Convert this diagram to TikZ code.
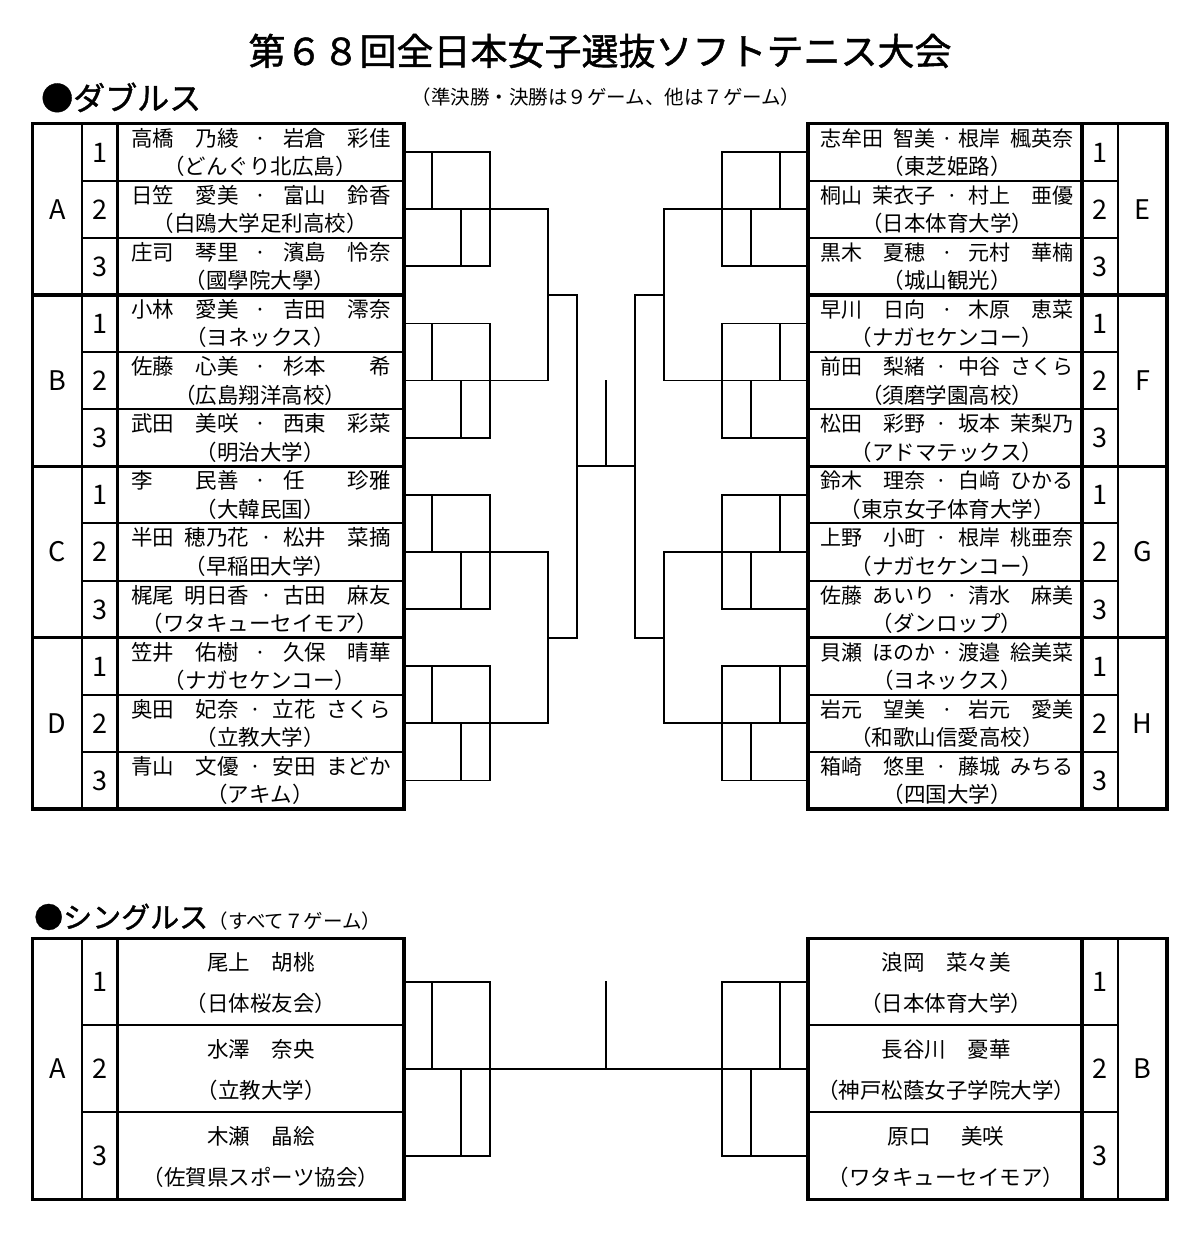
\documentclass[tikz,border=0pt]{standalone}
\usepackage{fontspec}
\setmainfont{Noto Sans CJK JP}
\newfontfamily\hdfont[FakeBold=1.2]{Noto Sans CJK JP}
\usetikzlibrary{calc}
\newcommand\pl[3]{\hbox to #1em{#2\hfill#3}}
\newcommand\nmfont{\fontsize{21.5}{24}\selectfont}
\newcommand\nmfontr{\fontsize{21}{24}\selectfont}
\newcommand\DL[4]{%
  \pgfmathsetmacro\rt{123.5+#1*57.125}%
  \node[nm,anchor=base west] (dl#1a) at (131,\rt+22.5) {#2};
  \node[nm,anchor=base east] (dl#1b) at (391,\rt+22.5) {#3};
  \node[nm,anchor=base] (dl#1d) at ($(dl#1a.base east)!0.5!(dl#1b.base west)$) {·};
  \node[nm,anchor=base] (dl#1o) at (260,\rt+51) {#4};}
\newcommand\DR[4]{%
  \pgfmathsetmacro\rt{123.5+#1*57.125}%
  \node[nmr,anchor=base west] (dr#1a) at (820,\rt+22.5) {#2};
  \node[nmr,anchor=base east] (dr#1b) at (1074,\rt+22.5) {#3};
  \node[nmr,anchor=base] (dr#1d) at ($(dr#1a.base east)!0.5!(dr#1b.base west)$) {·};
  \node[nm,anchor=base] (dr#1o) at (947,\rt+51) {#4};}
\newcommand\SL[3]{%
  \pgfmathsetmacro\rt{938.3+#1*87}%
  \node[nm,anchor=base] (sl#1n) at (261,\rt+31.7) {#2};
  \node[nm,anchor=base] (sl#1o) at (261,\rt+73.2) {#3};}
\newcommand\SR[3]{%
  \pgfmathsetmacro\rt{938.3+#1*87}%
  \node[nm,anchor=base] (sr#1n) at (946,\rt+31.7) {#2};
  \node[nm,anchor=base] (sr#1o) at (946,\rt+73.2) {#3};}
\begin{document}
\begin{tikzpicture}[x=1pt,y=-1pt,
  bl/.style={line width=1.8pt,line cap=rect},
  tl/.style={line width=2pt},
  tk/.style={line width=3.5pt},
  nm/.style={font=\nmfont,inner sep=0pt},
  nmr/.style={font=\nmfontr,inner sep=0pt},
  num/.style={font=\fontsize{27}{30}\selectfont,inner sep=0pt,anchor=base},
  note/.style={font=\fontsize{19.5}{22}\selectfont,inner sep=0pt}]
\useasboundingbox (0,0) rectangle (1200,1234);

% ---------- headings ----------
\node[font=\hdfont\fontsize{37}{40}\selectfont,inner sep=0pt,anchor=base] (title) at (600,65) {第６８回全日本女子選抜ソフトテニス大会};
\node[font=\hdfont\fontsize{32}{36}\selectfont,inner sep=0pt,anchor=base west] (dhead) at (41,110) {●ダブルス};
\node[note,anchor=base] (dnote) at (606,104) {（準決勝・決勝は９ゲーム、他は７ゲーム）};
\node[font=\hdfont\fontsize{29}{32}\selectfont,inner sep=0pt,anchor=base west] (shead) at (34,928) {●シングルス};
\node[note,anchor=base west] (snote) at (shead.base east) {（すべて７ゲーム）};

% ---------- doubles bracket ----------
\foreach \g in {0,...,3}{
  \foreach \r in {0,1,2}{
    \pgfmathsetmacro\cy{123.5+(3*\g+\r+0.5)*57.125}
    \coordinate (La\g\r) at (404,\cy);
    \coordinate (Ra\g\r) at (808,\cy);
  }
}
\foreach \g in {0,...,3}{
  \draw[bl] (La\g0) -- ++(86,0) |- (La\g2);
  \draw[bl] (La\g1) -- ++(144,0) coordinate (Lm\g);
  \draw[bl] ([xshift=28pt]La\g0) -- ([xshift=28pt]La\g1);
  \draw[bl] ([xshift=57pt]La\g1) -- ([xshift=57pt]La\g2);
  \draw[bl] (Ra\g0) -- ++(-86,0) |- (Ra\g2);
  \draw[bl] (Ra\g1) -- ++(-144,0) coordinate (Rm\g);
  \draw[bl] ([xshift=-28pt]Ra\g0) -- ([xshift=-28pt]Ra\g1);
  \draw[bl] ([xshift=-57pt]Ra\g1) -- ([xshift=-57pt]Ra\g2);
}
\draw[bl] (Lm0) -- (Lm1);
\draw[bl] (Lm2) -- (Lm3);
\draw[bl] (Rm0) -- (Rm1);
\draw[bl] (Rm2) -- (Rm3);
\coordinate (LmAB) at ($(Lm0)!0.5!(Lm1)$);
\coordinate (LmCD) at ($(Lm2)!0.5!(Lm3)$);
\coordinate (RmAB) at ($(Rm0)!0.5!(Rm1)$);
\coordinate (RmCD) at ($(Rm2)!0.5!(Rm3)$);
\draw[bl] (LmAB) -- ++(29,0) coordinate (LqAB);
\draw[bl] (LmCD) -- ++(29,0) coordinate (LqCD);
\draw[bl] (RmAB) -- ++(-29,0) coordinate (RqAB);
\draw[bl] (RmCD) -- ++(-29,0) coordinate (RqCD);
\draw[bl] (LqAB) -- (LqCD);
\draw[bl] (RqAB) -- (RqCD);
\coordinate (Lfin) at ($(LqAB)!0.5!(LqCD)$);
\coordinate (Rfin) at ($(RqAB)!0.5!(RqCD)$);
\draw[bl] (Lfin) -- (Rfin);
\coordinate (ctr) at (606,0);
\draw[bl] (ctr |- La11) -- (ctr |- Lfin);

% ---------- singles bracket ----------
\foreach \r in {0,1,2}{
  \pgfmathsetmacro\cy{938.3+(\r+0.5)*87}
  \coordinate (Sa\r) at (404,\cy);
  \coordinate (Sb\r) at (808,\cy);
}
\draw[bl] (Sa0) -- ++(86,0) |- (Sa2);
\draw[bl] (Sa1) -- (Sb1);
\draw[bl] ([xshift=28pt]Sa0) -- ([xshift=28pt]Sa1);
\draw[bl] ([xshift=57pt]Sa1) -- ([xshift=57pt]Sa2);
\draw[bl] (Sb0) -- ++(-86,0) |- (Sb2);
\draw[bl] ([xshift=-28pt]Sb0) -- ([xshift=-28pt]Sb1);
\draw[bl] ([xshift=-57pt]Sb1) -- ([xshift=-57pt]Sb2);
\draw[bl] (ctr |- Sa0) -- (ctr |- Sa1);

% ---------- doubles tables ----------
\foreach \i in {1,2,4,5,7,8,10,11}{
  \draw[tl] (82,123.5+\i*57.125) -- (404,123.5+\i*57.125);
  \draw[tl] (808,123.5+\i*57.125) -- (1118,123.5+\i*57.125);
}
\foreach \i in {3,6,9}{
  \draw[tk] (32.5,123.5+\i*57.125) -- (404,123.5+\i*57.125);
  \draw[tk] (808,123.5+\i*57.125) -- (1167,123.5+\i*57.125);
}
\draw[tl] (82,123.5) -- (82,809);
\draw[tk] (117.5,123.5) -- (117.5,809);
\draw[tk] (32.5,123.5) rectangle (404,809);
\draw[tl] (1118,123.5) -- (1118,809);
\draw[tk] (1082,123.5) -- (1082,809);
\draw[tk] (808,123.5) rectangle (1167,809);

% ---------- singles tables ----------
\foreach \i in {1,2}{
  \draw[tl] (82,938.3+\i*87) -- (404,938.3+\i*87);
  \draw[tl] (808,938.3+\i*87) -- (1118,938.3+\i*87);
}
\draw[tl] (82,938.3) -- (82,1199.3);
\draw[tk] (117.5,938.3) -- (117.5,1199.3);
\draw[tk] (32.5,938.3) rectangle (404,1199.3);
\draw[tl] (1118,938.3) -- (1118,1199.3);
\draw[tk] (1082,938.3) -- (1082,1199.3);
\draw[tk] (808,938.3) rectangle (1167,1199.3);

% ---------- numbers and group letters ----------
\foreach \i in {0,...,11}{
  \pgfmathsetmacro\cy{123.5+(\i+0.5)*57.125+10}
  \pgfmathtruncatemacro\n{mod(\i,3)+1}
  \node[num] (nl\i) at (99.75,\cy) {\n};
  \node[num] (nr\i) at (1100,\cy) {\n};
}
\foreach \g/\a/\b in {0/A/E,1/B/F,2/C/G,3/D/H}{
  \pgfmathsetmacro\cy{123.5+(3*\g+1.5)*57.125+10}
  \node[num] (gl\g) at (57.25,\cy) {\a};
  \node[num] (gr\g) at (1142.5,\cy) {\b};
}
\foreach \i in {0,1,2}{
  \pgfmathsetmacro\cy{938.3+(\i+0.5)*87+10}
  \pgfmathtruncatemacro\n{\i+1}
  \node[num] (snl\i) at (99.75,\cy) {\n};
  \node[num] (snr\i) at (1100,\cy) {\n};
}
\node[num] (sgl) at (57.25,1078.8) {A};
\node[num] (sgr) at (1142.5,1078.8) {B};

% ---------- doubles names ----------
\DL{0}{\pl{5}{高橋}{乃綾}}{\pl{5}{岩倉}{彩佳}}{（どんぐり北広島）}
\DL{1}{\pl{5}{日笠}{愛美}}{\pl{5}{富山}{鈴香}}{（白鴎大学足利高校）}
\DL{2}{\pl{5}{庄司}{琴里}}{\pl{5}{濱島}{怜奈}}{（國學院大學）}
\DL{3}{\pl{5}{小林}{愛美}}{\pl{5}{吉田}{澪奈}}{（ヨネックス）}
\DL{4}{\pl{5}{佐藤}{心美}}{\pl{5}{杉本}{希}}{（広島翔洋高校）}
\DL{5}{\pl{5}{武田}{美咲}}{\pl{5}{西東}{彩菜}}{（明治大学）}
\DL{6}{\pl{5}{李}{民善}}{\pl{5}{任}{珍雅}}{（大韓民国）}
\DL{7}{\pl{5.5}{半田}{穂乃花}}{\pl{5}{松井}{菜摘}}{（早稲田大学）}
\DL{8}{\pl{5.5}{梶尾}{明日香}}{\pl{5}{古田}{麻友}}{（ワタキューセイモア）}
\DL{9}{\pl{5}{笠井}{佑樹}}{\pl{5}{久保}{晴華}}{（ナガセケンコー）}
\DL{10}{\pl{5}{奥田}{妃奈}}{\pl{5.5}{立花}{さくら}}{（立教大学）}
\DL{11}{\pl{5}{青山}{文優}}{\pl{5.5}{安田}{まどか}}{（アキム）}

\DR{0}{\pl{5.5}{志牟田}{智美}}{\pl{5.5}{根岸}{楓英奈}}{（東芝姫路）}
\DR{1}{\pl{5.5}{桐山}{茉衣子}}{\pl{5}{村上}{亜優}}{（日本体育大学）}
\DR{2}{\pl{5}{黒木}{夏穂}}{\pl{5}{元村}{華楠}}{（城山観光）}
\DR{3}{\pl{5}{早川}{日向}}{\pl{5}{木原}{恵菜}}{（ナガセケンコー）}
\DR{4}{\pl{5}{前田}{梨緒}}{\pl{5.5}{中谷}{さくら}}{（須磨学園高校）}
\DR{5}{\pl{5}{松田}{彩野}}{\pl{5.5}{坂本}{茉梨乃}}{（アドマテックス）}
\DR{6}{\pl{5}{鈴木}{理奈}}{\pl{5.5}{白﨑}{ひかる}}{（東京女子体育大学）}
\DR{7}{\pl{5}{上野}{小町}}{\pl{5.5}{根岸}{桃亜奈}}{（ナガセケンコー）}
\DR{8}{\pl{5.5}{佐藤}{あいり}}{\pl{5}{清水}{麻美}}{（ダンロップ）}
\DR{9}{\pl{5.5}{貝瀬}{ほのか}}{\pl{5.5}{渡邉}{絵美菜}}{（ヨネックス）}
\DR{10}{\pl{5}{岩元}{望美}}{\pl{5}{岩元}{愛美}}{（和歌山信愛高校）}
\DR{11}{\pl{5}{箱崎}{悠里}}{\pl{5.5}{藤城}{みちる}}{（四国大学）}

% ---------- singles names ----------
\SL{0}{尾上　胡桃}{（日体桜友会）}
\SL{1}{水澤　奈央}{（立教大学）}
\SL{2}{木瀬　晶絵}{（佐賀県スポーツ協会）}
\SR{0}{浪岡　菜々美}{（日本体育大学）}
\SR{1}{長谷川　憂華}{（神戸松蔭女子学院大学）}
\SR{2}{原口\hspace{1.4em}美咲}{（ワタキューセイモア）}
\end{tikzpicture}
\end{document}
